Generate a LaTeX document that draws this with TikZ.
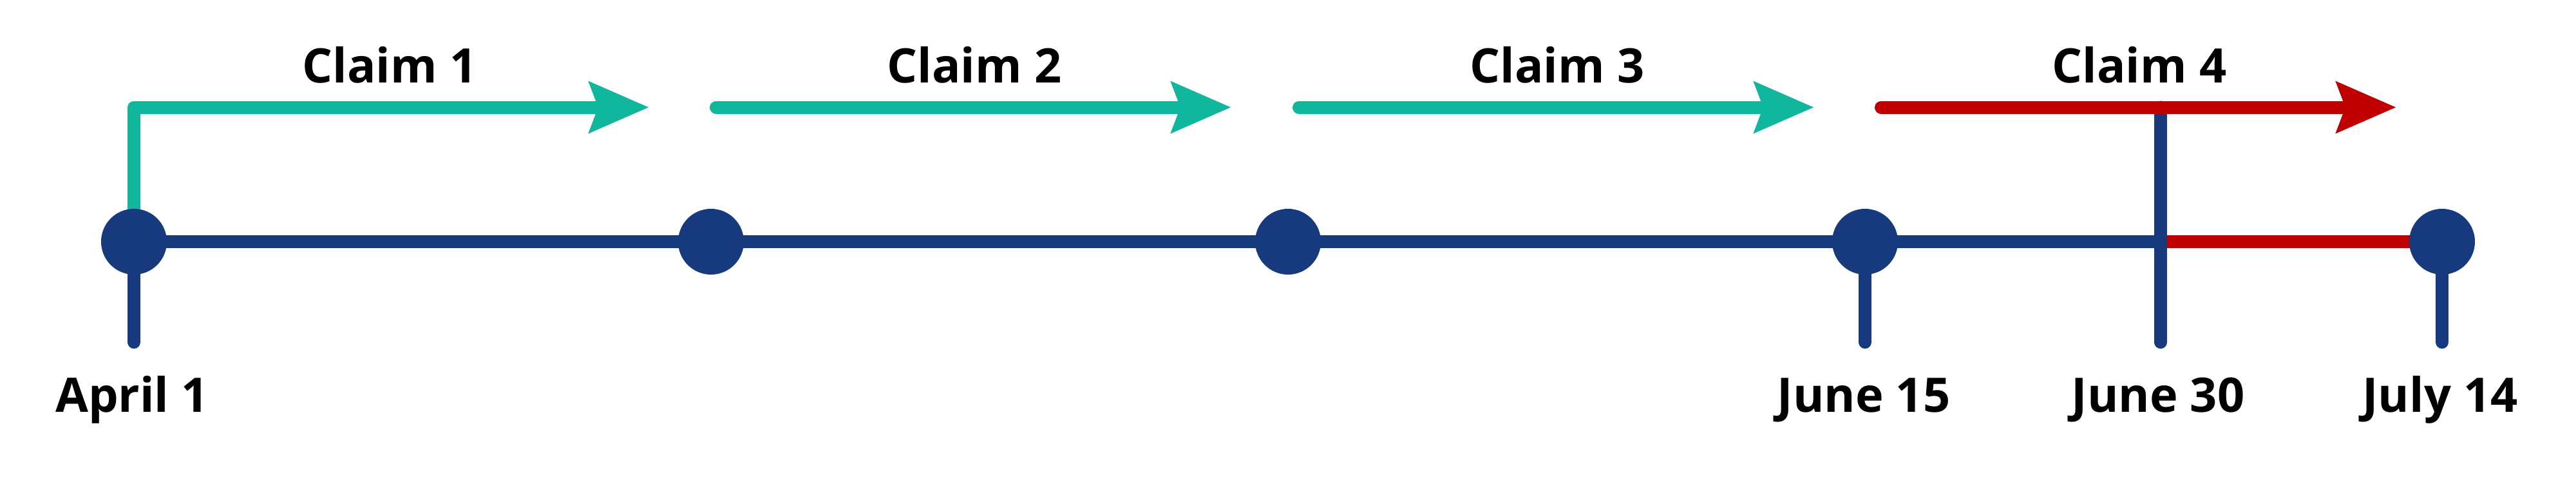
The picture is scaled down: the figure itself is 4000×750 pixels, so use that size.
\documentclass[tikz,border=0pt]{standalone}
\usepackage{fontspec}
\setmainfont{Open Sans}
\usetikzlibrary{arrows.meta}
\definecolor{tealc}{HTML}{11B79C}
\definecolor{navyc}{HTML}{173A7F}
\definecolor{redc}{HTML}{C00000}
\tikzset{
  dot/.style={circle,fill=navyc,draw=none,inner sep=0pt,minimum size=1.02cm},
  tl/.style={line width=0.2cm,draw=navyc},
  stem/.style={line width=0.2cm,draw=navyc,line cap=round},
  claimarrow/.style={line width=0.2cm,line cap=round,line join=round,
    -{Stealth[length=0.92cm,width=0.77cm,inset=0.13cm]}},
  lbl/.style={font=\fontsize{21}{25}\selectfont\bfseries,anchor=base,inner sep=0pt,text=black}
}
\begin{document}
\begin{tikzpicture}[x=0.01cm,y=-0.01cm]
\useasboundingbox (0,0) rectangle (4000,750);
% coordinates
\coordinate (p1) at (208,375);
\coordinate (p2) at (1104,375);
\coordinate (p3) at (2000,375);
\coordinate (p4) at (2896,375);
\coordinate (p5) at (3792,375);
\coordinate (j30) at (3355,375);
\coordinate (j30top) at (3355,166.5);
\coordinate (j30bot) at (3355,531);
\coordinate (s1) at (208,531);
\coordinate (s4) at (2896,531);
\coordinate (s5) at (3792,531);
\coordinate (a1e) at (1008,166.5);
\coordinate (a2s) at (1112,166.5);
\coordinate (a2e) at (1912,166.5);
\coordinate (a3s) at (2017,166.5);
\coordinate (a3e) at (2817,166.5);
\coordinate (a4s) at (2921,166.5);
\coordinate (a4e) at (3721,166.5);
% teal claim arrows
\draw[claimarrow,draw=tealc] (p1) |- (a1e);
\draw[claimarrow,draw=tealc] (a2s) -- (a2e);
\draw[claimarrow,draw=tealc] (a3s) -- (a3e);
% timeline
\draw[tl] (p1) -- (j30);
\draw[line width=0.2cm,draw=redc] (j30) -- (p5);
% stems
\draw[stem] (p1) -- (s1);
\draw[stem] (p4) -- (s4);
\draw[stem] (p5) -- (s5);
% dots
\node[dot] (c1) at (p1) {};
\node[dot] (c2) at (p2) {};
\node[dot] (c3) at (p3) {};
\node[dot] (c4) at (p4) {};
\node[dot] (c5) at (p5) {};
% June 30 marker
\draw[stem] (j30top) -- (j30bot);
% red claim arrow
\draw[claimarrow,draw=redc] (a4s) -- (a4e);
% labels
\node[lbl] (cl1) at (605,128) {Claim 1};
\node[lbl] (cl2) at (1513,128) {Claim 2};
\node[lbl] (cl3) at (2418,128) {Claim 3};
\node[lbl] (cl4) at (3322,128) {Claim 4};
\node[lbl] (d1) at (205,639) {April 1};
\node[lbl] (d2) at (2894,639) {June 15};
\node[lbl] (d3) at (3351,639) {June 30};
\node[lbl] (d4) at (3789,639) {July 14};
\end{tikzpicture}
\end{document}
